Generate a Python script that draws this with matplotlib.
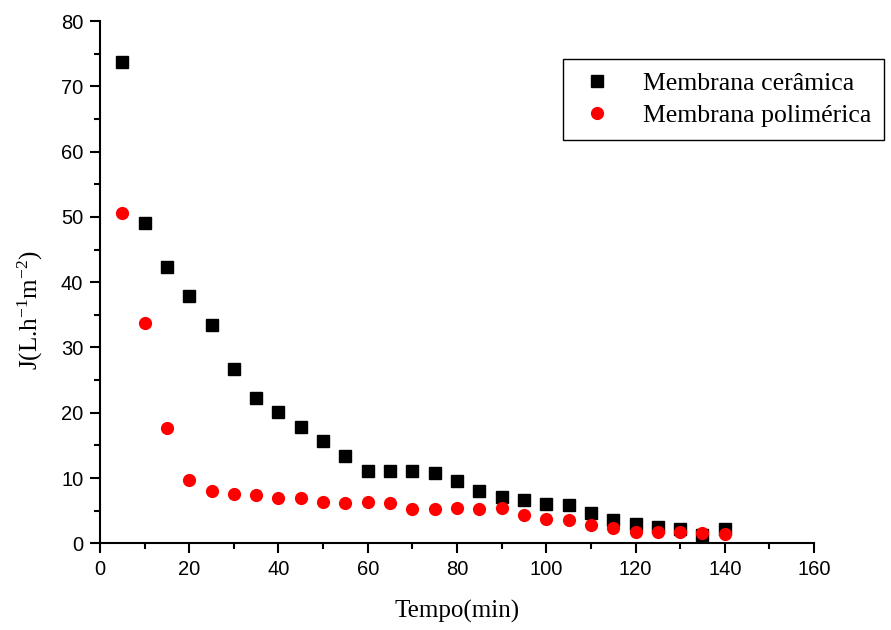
"""
Permeate flux vs time for ceramic and polymeric membranes
"""

import matplotlib.pyplot as plt

plt.rcParams['mathtext.default'] = 'regular'

tempo = [5, 10, 15, 20, 25, 30, 35, 40, 45, 50, 55, 60, 65, 70,
         75, 80, 85, 90, 95, 100, 105, 110, 115, 120, 125, 130, 135, 140]

ceramica = [73.7, 49.1, 42.3, 37.9, 33.4, 26.7, 22.3, 20.1, 17.8, 15.6,
            13.3, 11.1, 11.1, 11.1, 10.7, 9.6, 8.0, 7.1, 6.6, 6.0,
            5.8, 4.7, 3.6, 2.9, 2.5, 2.2, 1.2, 2.2]

polimerica = [50.6, 33.7, 17.7, 9.7, 8.0, 7.6, 7.4, 7.0, 7.0, 6.4,
              6.2, 6.3, 6.2, 5.3, 5.3, 5.4, 5.3, 5.4, 4.4, 3.8,
              3.5, 2.8, 2.3, 1.7, 1.7, 1.7, 1.6, 1.5]

x_ticks = [0, 20, 40, 60, 80, 100, 120, 140, 160]
y_ticks = [0, 10, 20, 30, 40, 50, 60, 70, 80]

fig = plt.figure(figsize=(8.91, 6.3), dpi=100)
ax = fig.add_axes([0.1122, 0.1376, 0.8014, 0.829])

ax.plot(tempo, ceramica, 's', color='black', markersize=8,
        label='Membrana cerâmica')
ax.plot(tempo, polimerica, 'o', color='red', markersize=9.5,
        markeredgewidth=0, label='Membrana polimérica')

ax.set_xlim(0, 160)
ax.set_ylim(0, 80)
ax.set_xticks(x_ticks)
ax.set_yticks(y_ticks)
ax.set_xticks(range(10, 160, 20), minor=True)
ax.set_yticks(range(5, 80, 10), minor=True)

for lab in ax.get_xticklabels() + ax.get_yticklabels():
    lab.set_family('Liberation Sans')
ax.tick_params(axis='both', which='major', labelsize=14.5, length=7, width=1.5,
               direction='out', pad=5)
ax.tick_params(axis='both', which='minor', length=4, width=1.5, direction='out')

ax.spines['right'].set_visible(False)
ax.spines['top'].set_visible(False)
ax.spines['left'].set_linewidth(1.5)
ax.spines['bottom'].set_linewidth(1.5)

ax.set_xlabel('Tempo(min)', family='Liberation Serif', fontsize=18, labelpad=15)
ax.set_ylabel('J(L.h$^{-1}$m$^{-2}$)', family='Liberation Serif', fontsize=18)
ax.yaxis.set_label_coords(-0.077, 0.446)

leg = ax.legend(loc='upper left', bbox_to_anchor=(0.632, 0.906),
                bbox_transform=fig.transFigure, fancybox=False,
                edgecolor='black', framealpha=1, borderpad=0.5,
                handlelength=1.6, handletextpad=1.0, labelspacing=0.36,
                borderaxespad=0,
                prop={'family': 'Liberation Serif', 'size': 18.5})
leg.get_frame().set_linewidth(1.0)

plt.savefig('out.png', dpi=100)
